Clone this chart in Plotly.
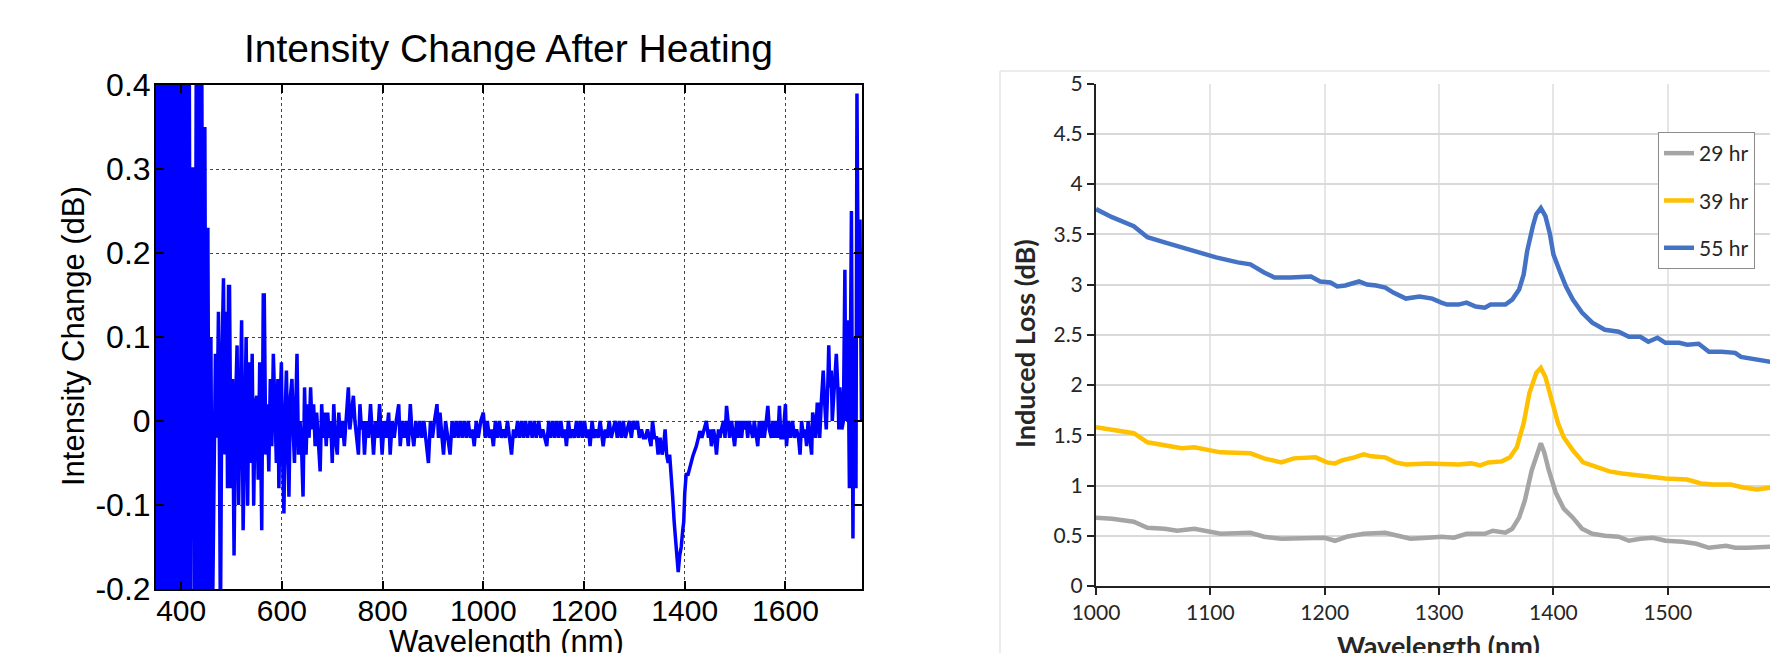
import plotly.graph_objects as go

# ---------------- Left chart data: Intensity change after heating ----------------
wl_left = [
    350, 353, 356, 359, 362, 365, 368, 371, 374, 377,
    380, 383, 386, 389, 392, 395, 398, 401, 404, 407,
    410, 413, 416, 419, 422, 425, 427, 430, 433, 436,
    439, 441, 444, 447, 450, 453, 456, 459, 462, 465,
    468, 471, 474, 476, 478, 481, 484, 487, 490, 492,
    494, 496, 499, 502, 505, 508, 511, 514, 517, 520,
    523, 526, 529, 532, 535, 538, 541, 544, 547, 550,
    553, 556, 558, 560, 563, 565, 568, 571, 574, 577,
    580, 583, 586, 589, 592, 594, 597, 599, 601, 604,
    607, 609, 612, 614, 617, 620, 623, 625, 628, 630,
    633, 636, 639, 642, 645, 648, 651, 654, 657, 660,
    663, 666, 669, 672, 676, 679, 682, 685, 688, 691,
    694, 697, 700, 703, 706, 710, 713, 716, 720, 724,
    728, 732, 735, 738, 742, 745, 748, 752, 755, 758,
    761, 764, 768, 772, 776, 779, 782, 786, 790, 794,
    797, 799, 803, 807, 812, 815, 819, 823, 827, 832,
    835, 839, 843, 847, 851, 855, 858, 862, 866, 870,
    874, 878, 882, 886, 891, 895, 899, 903, 908, 911,
    914, 918, 921, 925, 929, 934, 938, 942, 946, 950,
    954, 958, 962, 966, 970, 974, 978, 982, 986, 990,
    995, 1000, 1004, 1008, 1012, 1016, 1020, 1024, 1028, 1032,
    1036, 1040, 1044, 1048, 1052, 1056, 1060, 1064, 1068, 1072,
    1076, 1080, 1084, 1088, 1093, 1097, 1101, 1105, 1110, 1114,
    1118, 1122, 1126, 1130, 1134, 1138, 1142, 1146, 1150, 1154,
    1158, 1162, 1165, 1169, 1173, 1177, 1181, 1185, 1189, 1193,
    1197, 1201, 1205, 1209, 1212, 1216, 1220, 1224, 1228, 1232,
    1235, 1238, 1242, 1246, 1250, 1254, 1258, 1262, 1266, 1270,
    1274, 1278, 1282, 1286, 1290, 1294, 1298, 1302, 1306, 1310,
    1314, 1318, 1322, 1326, 1330, 1333, 1336, 1340, 1344, 1347,
    1351, 1355, 1358, 1361, 1364, 1367, 1370, 1373, 1376, 1379,
    1382, 1384, 1387, 1390, 1393, 1396, 1398, 1400, 1403, 1406,
    1410, 1413, 1416, 1420, 1423, 1427, 1430, 1434, 1438, 1443,
    1447, 1450, 1453, 1457, 1460, 1463, 1467, 1470, 1473, 1477,
    1480, 1483, 1486, 1489, 1493, 1496, 1499, 1503, 1506, 1509,
    1513, 1516, 1519, 1522, 1525, 1528, 1532, 1535, 1538, 1542,
    1545, 1548, 1552, 1555, 1558, 1562, 1565, 1568, 1572, 1575,
    1578, 1581, 1585, 1588, 1591, 1595, 1598, 1600, 1602, 1606,
    1610, 1614, 1618, 1622, 1626, 1629, 1632, 1636, 1639, 1642,
    1645, 1648, 1652, 1654, 1657, 1660, 1663, 1665, 1668, 1671,
    1673, 1675, 1678, 1681, 1684, 1686, 1688, 1691, 1693, 1696,
    1699, 1701, 1704, 1706, 1708, 1710, 1712, 1715, 1718, 1720,
    1722, 1724, 1727, 1729, 1731, 1734, 1736, 1738, 1740, 1742,
    1745, 1748, 1751,
]
db_left = [
    0.45, -0.25, 0.45, -0.25, 0.45, -0.25, 0.45, -0.25, 0.45, -0.25,
    0.45, -0.25, 0.45, -0.25, 0.45, -0.25, 0.45, -0.25, 0.45, -0.25,
    0.45, -0.25, 0.45, -0.25, 0.30, 0.30, -0.25, 0.45, -0.25, 0.45,
    -0.25, 0.42, -0.25, 0.35, -0.25, 0.23, -0.25, 0.10, -0.25, -0.03,
    0.08, -0.02, 0.13, -0.04, -0.25, 0.08, 0.17, -0.04, 0.13, -0.08,
    0.16, 0.16, -0.08, 0.05, -0.16, 0.02, 0.09, -0.10, 0.05, 0.12,
    -0.13, 0.03, 0.10, -0.10, 0.07, -0.05, 0.08, -0.10, 0.02, 0.03,
    -0.07, 0.07, -0.02, -0.13, 0.15, 0.15, -0.04, 0.02, -0.06, 0.05,
    -0.03, 0.08, 0.02, -0.05, 0.05, -0.08, 0.03, 0.07, -0.03, -0.11,
    0.02, 0.06, -0.04, -0.09, 0.03, 0.05, -0.02, -0.05, 0.03, 0.08,
    -0.04, 0.00, -0.03, -0.09, 0.04, -0.04, 0.02, -0.02, 0.04, -0.01,
    0.02, -0.03, 0.01, -0.02, -0.06, 0.02, -0.02, 0.01, -0.03, 0.01,
    -0.02, 0.00, -0.05, 0.02, -0.02, -0.04, 0.01, -0.02, 0.00, -0.03,
    0.01, 0.04, -0.01, 0.01, 0.03, 0.00, -0.02, -0.04, 0.02, -0.01,
    0.00, -0.04, 0.00, -0.02, 0.02, -0.01, -0.04, 0.00, -0.02, 0.02,
    -0.01, -0.04, 0.00, -0.02, 0.01, -0.04, 0.00, -0.02, 0.00, 0.02,
    -0.03, 0.00, -0.02, 0.00, -0.03, 0.02, -0.01, -0.03, 0.00, -0.02,
    0.00, -0.02, 0.00, -0.02, -0.05, 0.00, -0.02, 0.00, 0.02, -0.02,
    0.01, -0.02, -0.04, 0.00, -0.02, -0.04, 0.00, -0.02, 0.00, -0.02,
    0.00, -0.02, 0.00, -0.02, 0.00, -0.02, -0.01, -0.03, 0.00, -0.02,
    0.00, 0.01, -0.02, 0.00, -0.02, -0.01, -0.03, 0.00, -0.02, 0.00,
    -0.02, -0.01, -0.02, 0.00, -0.02, -0.04, -0.01, -0.02, 0.00, -0.02,
    0.00, -0.02, 0.00, -0.02, 0.00, -0.02, 0.00, -0.02, 0.00, -0.02,
    -0.01, -0.02, -0.03, 0.00, -0.02, 0.00, -0.02, 0.00, -0.02, 0.00,
    -0.02, -0.01, -0.03, 0.00, -0.02, -0.01, -0.02, 0.00, -0.02, 0.00,
    -0.02, 0.00, -0.02, -0.01, -0.03, 0.00, -0.02, -0.01, -0.02, 0.00,
    -0.02, -0.03, -0.01, -0.02, 0.00, -0.02, -0.01, 0.00, -0.02, 0.00,
    -0.02, 0.00, -0.02, -0.01, 0.00, -0.02, 0.00, -0.01, 0.00, -0.02,
    -0.01, -0.02, -0.02, -0.01, -0.02, -0.03, 0.00, -0.02, -0.02, -0.04,
    -0.02, -0.04, -0.03, -0.01, -0.04, -0.05, -0.04, -0.06, -0.09, -0.12,
    -0.14, -0.165, -0.18, -0.16, -0.15, -0.13, -0.12, -0.086, -0.062, -0.065,
    -0.055, -0.05, -0.042, -0.035, -0.03, -0.02, -0.012, -0.02, -0.01, 0.00,
    -0.02, -0.01, -0.03, -0.01, -0.02, -0.04, -0.01, -0.02, -0.01, 0.00,
    -0.02, 0.018, 0.00, -0.02, 0.00, -0.02, -0.03, 0.00, -0.02, 0.00,
    -0.02, 0.00, -0.01, 0.00, -0.02, 0.00, -0.01, -0.02, 0.00, -0.02,
    -0.03, 0.00, -0.02, 0.00, -0.02, 0.00, 0.018, -0.01, -0.02, 0.00,
    -0.02, 0.00, -0.02, 0.018, -0.02, -0.02, 0.00, 0.02, -0.03, 0.00,
    -0.02, 0.00, -0.02, -0.01, -0.02, -0.04, 0.00, -0.02, -0.01, -0.03,
    0.00, -0.02, -0.04, 0.01, 0.00, -0.02, 0.02, 0.02, -0.02, 0.02,
    0.04, 0.06, 0.02, -0.01, 0.04, 0.09, 0.04, 0.06, 0.00, 0.04,
    0.06, 0.08, 0.04, -0.01, 0.04, 0.02, -0.01, 0.00, 0.18, 0.00,
    0.06, 0.12, -0.08, 0.10, 0.25, -0.14, 0.10, 0.02, -0.08, 0.39,
    0.10, 0.24, 0.00,
]
left_yticks = [-0.2, -0.1, 0, 0.1, 0.2, 0.3, 0.4]
left_yticktext = ["-0.2", "-0.1", "0", "0.1", "0.2", "0.3", "0.4"]
left_xticks = [400, 600, 800, 1000, 1200, 1400, 1600]

# ---------------- Right chart data: Induced loss ----------------
wl_29 = [1000, 1014, 1033, 1045, 1060, 1071, 1086, 1101, 1109, 1135, 1147, 1162, 1184, 1200,
         1209, 1219, 1234, 1253, 1264, 1275, 1290, 1302, 1313, 1324, 1340, 1347, 1358, 1364,
         1370, 1375, 1381, 1387, 1389, 1392, 1396, 1402, 1409, 1417, 1425, 1434, 1445, 1457,
         1466, 1476, 1487, 1498, 1513, 1525, 1536, 1551, 1559, 1570, 1590, 1600]
loss_29 = [0.68, 0.67, 0.64, 0.58, 0.57, 0.55, 0.57, 0.54, 0.52, 0.53, 0.49, 0.47, 0.48, 0.48,
           0.45, 0.49, 0.52, 0.53, 0.50, 0.47, 0.48, 0.49, 0.48, 0.52, 0.52, 0.55, 0.53, 0.57,
           0.68, 0.85, 1.15, 1.37, 1.42, 1.33, 1.15, 0.93, 0.77, 0.68, 0.57, 0.52, 0.50, 0.49,
           0.45, 0.47, 0.48, 0.45, 0.44, 0.42, 0.38, 0.40, 0.38, 0.38, 0.39, 0.38]
wl_39 = [1000, 1014, 1033, 1045, 1060, 1075, 1086, 1101, 1109, 1135, 1147, 1162, 1173, 1192,
         1202, 1209, 1215, 1226, 1234, 1241, 1253, 1262, 1271, 1290, 1305, 1317, 1328, 1336,
         1343, 1355, 1362, 1368, 1374, 1379, 1385, 1389, 1393, 1398, 1404, 1409, 1417, 1426,
         1438, 1449, 1460, 1476, 1483, 1498, 1517, 1529, 1540, 1555, 1566, 1578, 1590, 1600]
loss_39 = [1.58, 1.55, 1.52, 1.43, 1.40, 1.37, 1.38, 1.34, 1.33, 1.32, 1.27, 1.23, 1.27, 1.28,
           1.23, 1.22, 1.25, 1.28, 1.31, 1.29, 1.28, 1.23, 1.21, 1.22, 1.21, 1.21, 1.22, 1.20,
           1.23, 1.24, 1.28, 1.38, 1.62, 1.92, 2.12, 2.17, 2.08, 1.85, 1.62, 1.48, 1.35, 1.23,
           1.18, 1.14, 1.12, 1.10, 1.08, 1.07, 1.06, 1.02, 1.01, 1.01, 0.98, 0.96, 0.98, 0.97]
wl_55 = [1000, 1014, 1033, 1045, 1060, 1075, 1090, 1105, 1124, 1135, 1147, 1156, 1170, 1184,
         1188, 1196, 1205, 1211, 1218, 1230, 1237, 1245, 1253, 1260, 1271, 1283, 1294, 1302,
         1307, 1317, 1324, 1332, 1340, 1345, 1358, 1364, 1370, 1374, 1377, 1382, 1385, 1389,
         1393, 1397, 1400, 1406, 1411, 1417, 1425, 1434, 1445, 1457, 1466, 1476, 1483, 1491,
         1498, 1510, 1517, 1527, 1536, 1547, 1559, 1564, 1578, 1590, 1600]
loss_55 = [3.75, 3.67, 3.58, 3.47, 3.42, 3.37, 3.33, 3.27, 3.22, 3.20, 3.12, 3.07, 3.07, 3.07,
           3.08, 3.03, 3.02, 2.98, 2.99, 3.03, 3.00, 2.99, 2.97, 2.92, 2.86, 2.88, 2.86, 2.82,
           2.80, 2.80, 2.82, 2.78, 2.77, 2.80, 2.80, 2.85, 2.95, 3.10, 3.33, 3.58, 3.70, 3.76,
           3.68, 3.50, 3.30, 3.12, 2.98, 2.85, 2.72, 2.62, 2.55, 2.53, 2.48, 2.48, 2.43, 2.47,
           2.42, 2.42, 2.40, 2.41, 2.33, 2.33, 2.32, 2.28, 2.25, 2.23, 2.22]
right_series = ["29 hr", "39 hr", "55 hr"]
right_colors = ["#A5A5A5", "#FFC000", "#4472C4"]
right_xticks = [1000, 1100, 1200, 1300, 1400, 1500, 1600]
right_yticks = [0, 0.5, 1, 1.5, 2, 2.5, 3, 3.5, 4, 4.5, 5]
right_yticktext = ["0", "0.5", "1", "1.5", "2", "2.5", "3", "3.5", "4", "4.5", "5"]

W, H = 1770, 653
def px(x):
    return x / W
def py(y):
    return 1 - y / H

LFONT = "Liberation Sans, Arial, sans-serif"
RFONT = "Lato, Calibri, sans-serif"

fig = go.Figure()

fig.add_trace(go.Scatter(x=wl_left, y=db_left, mode="lines",
                         line=dict(color="#0000FF", width=3.5),
                         xaxis="x", yaxis="y", showlegend=False))

for name, color, xs, ys in zip(right_series, right_colors,
                               [wl_29, wl_39, wl_55], [loss_29, loss_39, loss_55]):
    fig.add_trace(go.Scatter(x=xs, y=ys, mode="lines", name=name,
                             line=dict(color=color, width=4.5),
                             xaxis="x2", yaxis="y2", legendgroup=name))

fig.update_layout(
    width=W, height=H,
    margin=dict(l=0, r=0, t=0, b=0, autoexpand=False),
    paper_bgcolor="white", plot_bgcolor="white",
    xaxis=dict(domain=[px(156), px(862)], range=[350, 1752], automargin=False,
               tickvals=left_xticks, ticks="inside", ticklen=8, tickwidth=1.5,
               tickcolor="black", showline=True, linecolor="black", linewidth=2,
               mirror="ticks", showgrid=True, gridcolor="#444", griddash="dot",
               gridwidth=1, zeroline=False, ticklabelstandoff=-6,
               tickfont=dict(family=LFONT, size=30, color="black"), anchor="y"),
    yaxis=dict(domain=[py(589), py(85)], range=[-0.2, 0.4], automargin=False,
               tickvals=left_yticks, ticktext=left_yticktext,
               ticks="inside", ticklen=8, tickwidth=1.5, tickcolor="black",
               showline=True, linecolor="black", linewidth=2, mirror="ticks",
               showgrid=True, gridcolor="#444", griddash="dot", gridwidth=1,
               zeroline=False, ticklabelstandoff=-3,
               tickfont=dict(family=LFONT, size=32, color="black"), anchor="x"),
    xaxis2=dict(domain=[px(1096), 1.0], range=[1000, 1589.4], automargin=False,
                tickvals=right_xticks, ticks="outside", ticklen=7, tickwidth=1.5,
                tickcolor="#222", showline=True, linecolor="#222", linewidth=2,
                showgrid=True, gridcolor="#e6e6e6", gridwidth=1.5, zeroline=False,
                tickfont=dict(family=RFONT, size=21, color="#262626"), anchor="y2"),
    yaxis2=dict(domain=[py(586), py(83.5)], range=[0, 5], automargin=False,
                tickvals=right_yticks, ticktext=right_yticktext,
                ticks="outside", ticklen=7, tickwidth=1.5, tickcolor="#222",
                showline=True, linecolor="#222", linewidth=2,
                showgrid=True, gridcolor="#d9d9d9", gridwidth=1.5, zeroline=False,
                tickfont=dict(family=RFONT, size=21, color="#262626"), anchor="x2"),
    legend=dict(x=px(1658), y=py(132), xanchor="left", yanchor="top",
                bgcolor="white", bordercolor="#8c8c8c", borderwidth=1,
                font=dict(family=RFONT, size=21, color="#262626"),
                tracegroupgap=17, traceorder="grouped"),
    showlegend=True,
)

# outer frame of the right chart
fig.add_shape(type="rect", xref="paper", yref="paper",
              x0=px(1000), x1=1.01, y0=-0.02, y1=py(71),
              line=dict(color="#d9d9d9", width=1), fillcolor="rgba(0,0,0,0)", layer="below")

# titles
fig.add_annotation(text="Intensity Change After Heating", xref="paper", yref="paper",
                   x=px(508), y=py(48), xanchor="center", yanchor="middle", showarrow=False,
                   font=dict(family=LFONT, size=39, color="black"))
fig.add_annotation(text="Intensity Change (dB)", xref="paper", yref="paper",
                   x=px(73), y=py(336), xanchor="center", yanchor="middle", showarrow=False,
                   textangle=-90, font=dict(family=LFONT, size=31, color="black"))
fig.add_annotation(text="Wavelength (nm)", xref="paper", yref="paper",
                   x=px(506), y=py(622), xanchor="center", yanchor="top", showarrow=False,
                   font=dict(family=LFONT, size=31, color="black"))
fig.add_annotation(text="<b>Induced Loss (dB)</b>", xref="paper", yref="paper",
                   x=px(1024), y=py(344), xanchor="center", yanchor="middle", showarrow=False,
                   textangle=-90, font=dict(family=RFONT, size=27, color="#262626"))
fig.add_annotation(text="<b>Wavelength (nm)</b>", xref="paper", yref="paper",
                   x=px(1438), y=py(627), xanchor="center", yanchor="top", showarrow=False,
                   font=dict(family=RFONT, size=27, color="#262626"))

fig.write_html("out.html")
